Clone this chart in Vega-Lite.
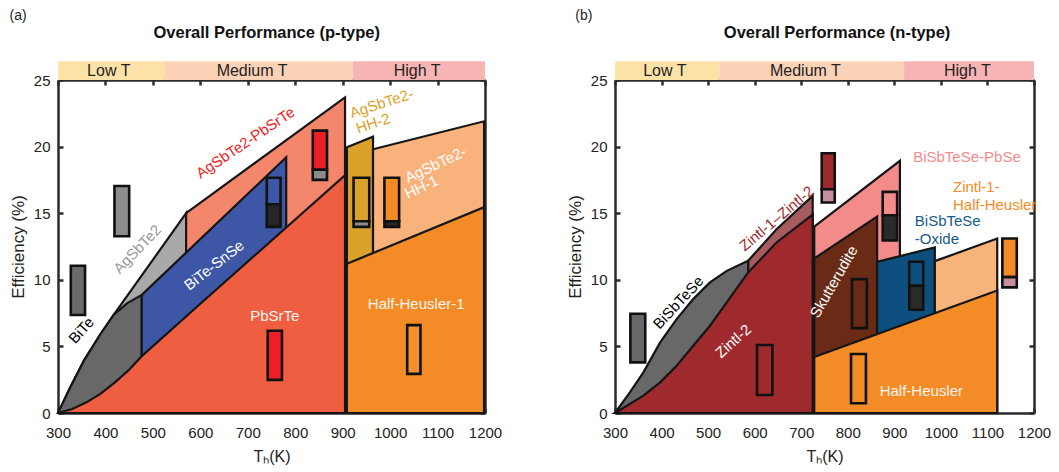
{
"$schema": "https://vega.github.io/schema/vega-lite/v6.json",
"background": "white",
"padding": {"left": 9, "top": 9, "right": 5, "bottom": 5},
"config": {
  "font": "Liberation Sans",
  "view": {"stroke": null},
  "axis": {"grid": false, "domainColor": "#2b2b2b", "domainWidth": 2.5, "tickColor": "#2b2b2b", "tickWidth": 2.5, "tickSize": -5, "labelFontSize": 15, "labelColor": "#222", "titleFontSize": 15, "titleColor": "#222", "titleFontWeight": "normal", "zindex": 1, "labelFlush": false}
},
"resolve": {"scale": {"fill": "independent", "color": "independent"}},
"datasets": {
  "bands": [
    {"band": "Low T", "t1": 300, "t2": 524, "tm": 407},
    {"band": "Medium T", "t1": 524, "t2": 921, "tm": 709},
    {"band": "High T", "t1": 921, "t2": 1200, "tm": 1057}
  ],
  "regA": [
    {"r": "AgSbTe2", "T": 300, "lo": 0, "hi": 0},
    {"r": "AgSbTe2", "T": 327, "lo": 0, "hi": 2.0},
    {"r": "AgSbTe2", "T": 355, "lo": 0, "hi": 3.95},
    {"r": "AgSbTe2", "T": 390, "lo": 0, "hi": 5.95},
    {"r": "AgSbTe2", "T": 418, "lo": 0, "hi": 7.4},
    {"r": "AgSbTe2", "T": 570, "lo": 0, "hi": 15.0},
    {"r": "AgSbTe2-PbSrTe", "T": 570, "lo": 0, "hi": 15.0},
    {"r": "AgSbTe2-PbSrTe", "T": 905, "lo": 0, "hi": 23.7},
    {"r": "BiTe-SnSe", "T": 476, "lo": 0, "hi": 8.85},
    {"r": "BiTe-SnSe", "T": 781, "lo": 0, "hi": 19.2},
    {"r": "BiTe", "T": 300, "lo": 0, "hi": 0},
    {"r": "BiTe", "T": 327, "lo": 0, "hi": 2.0},
    {"r": "BiTe", "T": 355, "lo": 0, "hi": 3.95},
    {"r": "BiTe", "T": 390, "lo": 0, "hi": 5.95},
    {"r": "BiTe", "T": 418, "lo": 0, "hi": 7.4},
    {"r": "BiTe", "T": 446, "lo": 0, "hi": 8.25},
    {"r": "BiTe", "T": 476, "lo": 0, "hi": 8.85},
    {"r": "PbSrTe", "T": 300, "lo": 0, "hi": 0},
    {"r": "PbSrTe", "T": 330, "lo": 0, "hi": 0.3},
    {"r": "PbSrTe", "T": 360, "lo": 0, "hi": 0.8},
    {"r": "PbSrTe", "T": 390, "lo": 0, "hi": 1.45},
    {"r": "PbSrTe", "T": 420, "lo": 0, "hi": 2.3},
    {"r": "PbSrTe", "T": 450, "lo": 0, "hi": 3.25},
    {"r": "PbSrTe", "T": 476, "lo": 0, "hi": 4.25},
    {"r": "PbSrTe", "T": 600, "lo": 0, "hi": 8.2},
    {"r": "PbSrTe", "T": 905, "lo": 0, "hi": 17.85},
    {"r": "AgSbTe2-HH-2", "T": 909, "lo": 0, "hi": 19.95},
    {"r": "AgSbTe2-HH-2", "T": 964, "lo": 0, "hi": 20.75},
    {"r": "AgSbTe2-HH-1", "T": 964, "lo": 0, "hi": 19.8},
    {"r": "AgSbTe2-HH-1", "T": 1198, "lo": 0, "hi": 21.9},
    {"r": "Half-Heusler-1", "T": 909, "lo": 0, "hi": 11.2},
    {"r": "Half-Heusler-1", "T": 1198, "lo": 0, "hi": 15.45}
  ],
  "barA": [
    {"seg": "BiTe", "t1": 327, "t2": 357, "e1": 7.36, "e2": 11.05},
    {"seg": "AgSbTe2", "t1": 419, "t2": 450, "e1": 13.27, "e2": 17.04},
    {"seg": "BiTe-SnSe", "t1": 740, "t2": 769, "e1": 15.67, "e2": 17.66},
    {"seg": "dark", "t1": 740, "t2": 769, "e1": 13.97, "e2": 15.67},
    {"seg": "AgSbTe2-PbSrTe", "t1": 837, "t2": 867, "e1": 18.26, "e2": 21.2},
    {"seg": "AgSbTe2", "t1": 837, "t2": 867, "e1": 17.5, "e2": 18.26},
    {"seg": "AgSbTe2-HH-2", "t1": 923, "t2": 956, "e1": 14.4, "e2": 17.66},
    {"seg": "AgSbTe2", "t1": 923, "t2": 956, "e1": 13.97, "e2": 14.4},
    {"seg": "AgSbTe2-HH-1", "t1": 988, "t2": 1019, "e1": 14.4, "e2": 17.66},
    {"seg": "dark", "t1": 988, "t2": 1019, "e1": 13.97, "e2": 14.4},
    {"seg": "PbSrTe", "t1": 742, "t2": 772, "e1": 2.49, "e2": 6.18},
    {"seg": "Half-Heusler-1", "t1": 1036, "t2": 1064, "e1": 2.94, "e2": 6.6}
  ],
  "labA": [
    {"id": "panel", "text": "(a)", "T": 216, "E": 29.8},
    {"id": "title", "text": "Overall Performance (p-type)", "T": 740, "E": 28.5},
    {"id": "bite", "text": "BiTe", "T": 349, "E": 6.2},
    {"id": "agsbte2", "text": "AgSbTe2", "T": 467, "E": 12.3},
    {"id": "bitesnse", "text": "BiTe-SnSe", "T": 629, "E": 11.1},
    {"id": "agpbsrte", "text": "AgSbTe2-PbSrTe", "T": 695, "E": 20.3},
    {"id": "pbsrte", "text": "PbSrTe", "T": 757, "E": 7.3},
    {"id": "hh1", "text": "Half-Heusler-1", "T": 1055, "E": 8.2},
    {"id": "hh2a", "text": "AgSbTe2-", "T": 982, "E": 23.25},
    {"id": "hh2b", "text": "HH-2", "T": 964, "E": 21.75},
    {"id": "aghh1a", "text": "AgSbTe2-", "T": 1096, "E": 18.66},
    {"id": "aghh1b", "text": "HH-1", "T": 1066, "E": 16.96}
  ],
  "regB": [
    {"r": "Zintl-1–Zintl-2", "T": 586, "lo": 0, "hi": 11.43},
    {"r": "Zintl-1–Zintl-2", "T": 647, "lo": 0, "hi": 13.8},
    {"r": "Zintl-1–Zintl-2", "T": 724.6, "lo": 0, "hi": 16.3},
    {"r": "BiSbTeSe", "T": 300, "lo": 0, "hi": 0},
    {"r": "BiSbTeSe", "T": 332, "lo": 0, "hi": 1.55},
    {"r": "BiSbTeSe", "T": 361, "lo": 0, "hi": 3.05},
    {"r": "BiSbTeSe", "T": 397, "lo": 0, "hi": 5.3},
    {"r": "BiSbTeSe", "T": 432.5, "lo": 0, "hi": 7.05},
    {"r": "BiSbTeSe", "T": 468, "lo": 0, "hi": 8.55},
    {"r": "BiSbTeSe", "T": 504, "lo": 0, "hi": 9.8},
    {"r": "BiSbTeSe", "T": 540, "lo": 0, "hi": 10.67},
    {"r": "BiSbTeSe", "T": 586, "lo": 0, "hi": 11.43},
    {"r": "Zintl-2", "T": 300, "lo": 0, "hi": 0},
    {"r": "Zintl-2", "T": 361, "lo": 0, "hi": 1.3},
    {"r": "Zintl-2", "T": 397, "lo": 0, "hi": 2.3},
    {"r": "Zintl-2", "T": 432.5, "lo": 0, "hi": 3.55},
    {"r": "Zintl-2", "T": 468, "lo": 0, "hi": 5.05},
    {"r": "Zintl-2", "T": 504, "lo": 0, "hi": 6.55},
    {"r": "Zintl-2", "T": 540, "lo": 0, "hi": 8.3},
    {"r": "Zintl-2", "T": 586, "lo": 0, "hi": 10.55},
    {"r": "Zintl-2", "T": 647, "lo": 0, "hi": 12.8},
    {"r": "Zintl-2", "T": 724.6, "lo": 0, "hi": 14.9},
    {"r": "BiSbTeSe-PbSe", "T": 728, "lo": 0, "hi": 14.0},
    {"r": "BiSbTeSe-PbSe", "T": 912, "lo": 0, "hi": 18.93},
    {"r": "Skutterudite", "T": 728, "lo": 0, "hi": 11.6},
    {"r": "Skutterudite", "T": 863, "lo": 0, "hi": 14.75},
    {"r": "BiSbTeSe-Oxide", "T": 863, "lo": 0, "hi": 11.35},
    {"r": "BiSbTeSe-Oxide", "T": 987, "lo": 0, "hi": 12.43},
    {"r": "Zintl-1-Half-Heusler", "T": 987, "lo": 0, "hi": 11.4},
    {"r": "Zintl-1-Half-Heusler", "T": 1121, "lo": 0, "hi": 13.1},
    {"r": "Half-Heusler", "T": 728, "lo": 0, "hi": 4.2},
    {"r": "Half-Heusler", "T": 1121, "lo": 0, "hi": 9.2}
  ],
  "barB": [
    {"seg": "BiSbTeSe", "t1": 333, "t2": 365, "e1": 3.8, "e2": 7.45},
    {"seg": "Zintl-2", "t1": 605, "t2": 638, "e1": 1.35, "e2": 5.1},
    {"seg": "Zintl-2", "t1": 744, "t2": 772, "e1": 16.8, "e2": 19.5},
    {"seg": "Zintl-1", "t1": 744, "t2": 772, "e1": 15.8, "e2": 16.8},
    {"seg": "Skutterudite", "t1": 809, "t2": 841, "e1": 6.37, "e2": 10.05},
    {"seg": "BiSbTeSe-PbSe", "t1": 875, "t2": 906, "e1": 14.85, "e2": 16.6},
    {"seg": "dark", "t1": 875, "t2": 906, "e1": 12.95, "e2": 14.85},
    {"seg": "BiSbTeSe-Oxide", "t1": 932, "t2": 962, "e1": 9.55, "e2": 11.35},
    {"seg": "dark", "t1": 932, "t2": 962, "e1": 7.75, "e2": 9.55},
    {"seg": "Half-Heusler", "t1": 807, "t2": 839, "e1": 0.73, "e2": 4.43},
    {"seg": "Half-Heusler", "t1": 1132, "t2": 1163, "e1": 10.2, "e2": 13.1},
    {"seg": "Zintl-1", "t1": 1132, "t2": 1163, "e1": 9.43, "e2": 10.2}
  ],
  "labB": [
    {"id": "panel", "text": "(b)", "T": 233, "E": 29.8},
    {"id": "title", "text": "Overall Performance (n-type)", "T": 777, "E": 28.5},
    {"id": "bisbtese", "text": "BiSbTeSe", "T": 436, "E": 8.3},
    {"id": "zintl2", "text": "Zintl-2", "T": 554, "E": 5.4},
    {"id": "z1z2", "text": "Zintl-1–Zintl-2", "T": 647, "E": 14.6},
    {"id": "skut", "text": "Skutterudite", "T": 770, "E": 9.85},
    {"id": "pbse", "text": "BiSbTeSe-PbSe", "T": 1056, "E": 19.2},
    {"id": "z1hha", "text": "Zintl-1-", "T": 1026, "E": 17.0},
    {"id": "z1hhb", "text": "Half-Heusler", "T": 1026, "E": 15.6},
    {"id": "oxa", "text": "BiSbTeSe", "T": 944, "E": 14.4},
    {"id": "oxb", "text": "-Oxide", "T": 944, "E": 13.05},
    {"id": "hh", "text": "Half-Heusler", "T": 958, "E": 1.67}
  ]
},
"spacing": 64,
"hconcat": [
{
  "width": 427, "height": 333,
  "resolve": {"axis": {"x": "independent", "y": "independent"}},
  "layer": [
    {"data": {"name": "bands"}, "mark": {"type": "rect"},
     "encoding": {"x": {"field": "t1", "type": "quantitative", "scale": {"domain": [300, 1200], "nice": false}, "axis": null}, "x2": {"field": "t2"},
       "y": {"datum": 25, "type": "quantitative", "scale": {"domain": [0, 25], "nice": false}, "axis": null}, "y2": {"datum": 26.4},
       "color": {"field": "band", "type": "nominal", "scale": {"domain": ["Low T", "Medium T", "High T"], "range": ["#FDE2A8", "#FBD2B6", "#F6B4B4"]}, "legend": null}}},
    {"data": {"name": "bands"}, "mark": {"type": "text", "fontSize": 16, "fill": "#222", "baseline": "middle"},
     "encoding": {"x": {"field": "tm", "type": "quantitative", "scale": {"domain": [300, 1200], "nice": false}, "axis": null},
       "y": {"datum": 25.7, "type": "quantitative", "scale": {"domain": [0, 25], "nice": false}, "axis": null}, "text": {"field": "band"}}},
    {"data": {"name": "regA"}, "transform": [{"filter": {"field": "r", "equal": "AgSbTe2"}}],
     "mark": {"type": "area", "fill": "#A9A9A9", "stroke": "#151515", "strokeWidth": 2.2},
     "encoding": {"x": {"field": "T", "type": "quantitative", "scale": {"domain": [300, 1200], "nice": false},
        "axis": {"orient": "bottom", "values": [300, 400, 500, 600, 700, 800, 900, 1000, 1100, 1200], "format": "d", "labelPadding": 17, "title": "Tₕ(K)", "titleFontSize": 16, "titlePadding": 8}},
       "y": {"field": "hi", "type": "quantitative", "scale": {"domain": [0, 25], "nice": false},
        "axis": {"orient": "left", "values": [0, 5, 10, 15, 20, 25], "labelPadding": 13, "title": "Efficiency (%)", "titleFontSize": 17, "titlePadding": 6}},
       "y2": {"field": "lo"}}},
    {"data": {"name": "regA"}, "transform": [{"filter": {"field": "r", "equal": "AgSbTe2-PbSrTe"}}],
     "mark": {"type": "area", "fill": "#F4876B", "stroke": "#151515", "strokeWidth": 2.2},
     "encoding": {"x": {"field": "T", "type": "quantitative", "scale": {"domain": [300, 1200], "nice": false}, "axis": null},
       "y": {"field": "hi", "type": "quantitative", "scale": {"domain": [0, 25], "nice": false}, "axis": null}, "y2": {"field": "lo"}}},
    {"data": {"name": "regA"}, "transform": [{"filter": {"field": "r", "equal": "BiTe-SnSe"}}],
     "mark": {"type": "area", "fill": "#3E56A6", "stroke": "#151515", "strokeWidth": 2.2},
     "encoding": {"x": {"field": "T", "type": "quantitative", "scale": {"domain": [300, 1200], "nice": false}, "axis": null},
       "y": {"field": "hi", "type": "quantitative", "scale": {"domain": [0, 25], "nice": false}, "axis": null}, "y2": {"field": "lo"}}},
    {"data": {"name": "regA"}, "transform": [{"filter": {"field": "r", "equal": "BiTe"}}],
     "mark": {"type": "area", "fill": "#686868", "stroke": "#151515", "strokeWidth": 2.2},
     "encoding": {"x": {"field": "T", "type": "quantitative", "scale": {"domain": [300, 1200], "nice": false}, "axis": null},
       "y": {"field": "hi", "type": "quantitative", "scale": {"domain": [0, 25], "nice": false}, "axis": null}, "y2": {"field": "lo"}}},
    {"data": {"name": "regA"}, "transform": [{"filter": {"field": "r", "equal": "PbSrTe"}}],
     "mark": {"type": "area", "fill": "#F05E42", "stroke": "#151515", "strokeWidth": 2.2},
     "encoding": {"x": {"field": "T", "type": "quantitative", "scale": {"domain": [300, 1200], "nice": false}, "axis": null},
       "y": {"field": "hi", "type": "quantitative", "scale": {"domain": [0, 25], "nice": false}, "axis": null}, "y2": {"field": "lo"}}},
    {"data": {"name": "regA"}, "transform": [{"filter": {"field": "r", "equal": "AgSbTe2-HH-2"}}],
     "mark": {"type": "area", "fill": "#DAA22B", "stroke": "#151515", "strokeWidth": 2.2},
     "encoding": {"x": {"field": "T", "type": "quantitative", "scale": {"domain": [300, 1200], "nice": false}, "axis": null},
       "y": {"field": "hi", "type": "quantitative", "scale": {"domain": [0, 25], "nice": false}, "axis": null}, "y2": {"field": "lo"}}},
    {"data": {"name": "regA"}, "transform": [{"filter": {"field": "r", "equal": "AgSbTe2-HH-1"}}],
     "mark": {"type": "area", "fill": "#F9B27B", "stroke": "#151515", "strokeWidth": 2.2},
     "encoding": {"x": {"field": "T", "type": "quantitative", "scale": {"domain": [300, 1200], "nice": false}, "axis": null},
       "y": {"field": "hi", "type": "quantitative", "scale": {"domain": [0, 25], "nice": false}, "axis": null}, "y2": {"field": "lo"}}},
    {"data": {"name": "regA"}, "transform": [{"filter": {"field": "r", "equal": "Half-Heusler-1"}}],
     "mark": {"type": "area", "fill": "#F38B26", "stroke": "#151515", "strokeWidth": 2.2},
     "encoding": {"x": {"field": "T", "type": "quantitative", "scale": {"domain": [300, 1200], "nice": false}, "axis": null},
       "y": {"field": "hi", "type": "quantitative", "scale": {"domain": [0, 25], "nice": false}, "axis": null}, "y2": {"field": "lo"}}},
    {"data": {"name": "barA"}, "mark": {"type": "rect", "stroke": "#111", "strokeWidth": 2.6},
     "encoding": {"x": {"field": "t1", "type": "quantitative", "scale": {"domain": [300, 1200], "nice": false},
        "axis": {"orient": "top", "values": [300, 400, 500, 600, 700, 800, 900, 1000, 1100, 1200], "labels": false, "title": null}},
       "x2": {"field": "t2"},
       "y": {"field": "e1", "type": "quantitative", "scale": {"domain": [0, 25], "nice": false},
        "axis": {"orient": "right", "values": [0, 5, 10, 15, 20, 25], "labels": false, "title": null}},
       "y2": {"field": "e2"},
       "fill": {"field": "seg", "type": "nominal", "legend": null, "scale": {"domain": ["BiTe", "AgSbTe2", "BiTe-SnSe", "dark", "AgSbTe2-PbSrTe", "PbSrTe", "AgSbTe2-HH-2", "AgSbTe2-HH-1", "Half-Heusler-1"], "range": ["#6A6A6A", "#8C8C8C", "#3E56A6", "#262626", "#EC1F26", "#EC1F26", "#DAA22B", "#F38B26", "#F4902E"]}}}},
    {"data": {"name": "labA"}, "transform": [{"filter": {"field": "id", "equal": "panel"}}],
     "mark": {"type": "text", "fontSize": 14, "fill": "#222", "align": "center", "baseline": "middle"},
     "encoding": {"x": {"field": "T", "type": "quantitative", "scale": {"domain": [300, 1200], "nice": false}, "axis": null}, "y": {"field": "E", "type": "quantitative", "scale": {"domain": [0, 25], "nice": false}, "axis": null}, "text": {"field": "text"}}},
    {"data": {"name": "labA"}, "transform": [{"filter": {"field": "id", "equal": "title"}}],
     "mark": {"type": "text", "fontSize": 16.5, "fontWeight": "bold", "fill": "#111", "align": "center", "baseline": "middle"},
     "encoding": {"x": {"field": "T", "type": "quantitative", "scale": {"domain": [300, 1200], "nice": false}, "axis": null}, "y": {"field": "E", "type": "quantitative", "scale": {"domain": [0, 25], "nice": false}, "axis": null}, "text": {"field": "text"}}},
    {"data": {"name": "labA"}, "transform": [{"filter": {"field": "id", "equal": "bite"}}],
     "mark": {"type": "text", "fontSize": 15, "fill": "#000", "angle": 312, "align": "center", "baseline": "middle"},
     "encoding": {"x": {"field": "T", "type": "quantitative", "scale": {"domain": [300, 1200], "nice": false}, "axis": null}, "y": {"field": "E", "type": "quantitative", "scale": {"domain": [0, 25], "nice": false}, "axis": null}, "text": {"field": "text"}}},
    {"data": {"name": "labA"}, "transform": [{"filter": {"field": "id", "equal": "agsbte2"}}],
     "mark": {"type": "text", "fontSize": 15, "fill": "#9A9A9A", "angle": 314, "align": "center", "baseline": "middle"},
     "encoding": {"x": {"field": "T", "type": "quantitative", "scale": {"domain": [300, 1200], "nice": false}, "axis": null}, "y": {"field": "E", "type": "quantitative", "scale": {"domain": [0, 25], "nice": false}, "axis": null}, "text": {"field": "text"}}},
    {"data": {"name": "labA"}, "transform": [{"filter": {"field": "id", "equal": "bitesnse"}}],
     "mark": {"type": "text", "fontSize": 15, "fill": "#FFFFFF", "angle": 322, "align": "center", "baseline": "middle"},
     "encoding": {"x": {"field": "T", "type": "quantitative", "scale": {"domain": [300, 1200], "nice": false}, "axis": null}, "y": {"field": "E", "type": "quantitative", "scale": {"domain": [0, 25], "nice": false}, "axis": null}, "text": {"field": "text"}}},
    {"data": {"name": "labA"}, "transform": [{"filter": {"field": "id", "equal": "agpbsrte"}}],
     "mark": {"type": "text", "fontSize": 15, "fill": "#EC1F26", "angle": 326, "align": "center", "baseline": "middle"},
     "encoding": {"x": {"field": "T", "type": "quantitative", "scale": {"domain": [300, 1200], "nice": false}, "axis": null}, "y": {"field": "E", "type": "quantitative", "scale": {"domain": [0, 25], "nice": false}, "axis": null}, "text": {"field": "text"}}},
    {"data": {"name": "labA"}, "transform": [{"filter": {"field": "id", "oneOf": ["pbsrte", "hh1"]}}],
     "mark": {"type": "text", "fontSize": 15, "fill": "#FFF4EE", "align": "center", "baseline": "middle"},
     "encoding": {"x": {"field": "T", "type": "quantitative", "scale": {"domain": [300, 1200], "nice": false}, "axis": null}, "y": {"field": "E", "type": "quantitative", "scale": {"domain": [0, 25], "nice": false}, "axis": null}, "text": {"field": "text"}}},
    {"data": {"name": "labA"}, "transform": [{"filter": {"field": "id", "oneOf": ["hh2a", "hh2b"]}}],
     "mark": {"type": "text", "fontSize": 15, "fill": "#DAA22B", "angle": 342, "align": "center", "baseline": "middle"},
     "encoding": {"x": {"field": "T", "type": "quantitative", "scale": {"domain": [300, 1200], "nice": false}, "axis": null}, "y": {"field": "E", "type": "quantitative", "scale": {"domain": [0, 25], "nice": false}, "axis": null}, "text": {"field": "text"}}},
    {"data": {"name": "labA"}, "transform": [{"filter": {"field": "id", "oneOf": ["aghh1a", "aghh1b"]}}],
     "mark": {"type": "text", "fontSize": 15, "fill": "#FFFFFF", "angle": 335, "align": "center", "baseline": "middle"},
     "encoding": {"x": {"field": "T", "type": "quantitative", "scale": {"domain": [300, 1200], "nice": false}, "axis": null}, "y": {"field": "E", "type": "quantitative", "scale": {"domain": [0, 25], "nice": false}, "axis": null}, "text": {"field": "text"}}}
  ]
},
{
  "width": 419, "height": 333,
  "resolve": {"axis": {"x": "independent", "y": "independent"}},
  "layer": [
    {"data": {"name": "bands"}, "mark": {"type": "rect"},
     "encoding": {"x": {"field": "t1", "type": "quantitative", "scale": {"domain": [300, 1200], "nice": false}, "axis": null}, "x2": {"field": "t2"},
       "y": {"datum": 25, "type": "quantitative", "scale": {"domain": [0, 25], "nice": false}, "axis": null}, "y2": {"datum": 26.4},
       "color": {"field": "band", "type": "nominal", "scale": {"domain": ["Low T", "Medium T", "High T"], "range": ["#FDE2A8", "#FBD2B6", "#F6B4B4"]}, "legend": null}}},
    {"data": {"name": "bands"}, "mark": {"type": "text", "fontSize": 16, "fill": "#222", "baseline": "middle"},
     "encoding": {"x": {"field": "tm", "type": "quantitative", "scale": {"domain": [300, 1200], "nice": false}, "axis": null},
       "y": {"datum": 25.7, "type": "quantitative", "scale": {"domain": [0, 25], "nice": false}, "axis": null}, "text": {"field": "band"}}},
    {"data": {"name": "regB"}, "transform": [{"filter": {"field": "r", "equal": "Zintl-1–Zintl-2"}}],
     "mark": {"type": "area", "fill": "#A65B5E", "stroke": "#151515", "strokeWidth": 2.2},
     "encoding": {"x": {"field": "T", "type": "quantitative", "scale": {"domain": [300, 1200], "nice": false},
        "axis": {"orient": "bottom", "values": [300, 400, 500, 600, 700, 800, 900, 1000, 1100, 1200], "format": "d", "labelPadding": 17, "title": "Tₕ(K)", "titleFontSize": 16, "titlePadding": 8}},
       "y": {"field": "hi", "type": "quantitative", "scale": {"domain": [0, 25], "nice": false},
        "axis": {"orient": "left", "values": [0, 5, 10, 15, 20, 25], "labelPadding": 13, "title": "Efficiency (%)", "titleFontSize": 17, "titlePadding": 6}},
       "y2": {"field": "lo"}}},
    {"data": {"name": "regB"}, "transform": [{"filter": {"field": "r", "equal": "BiSbTeSe"}}],
     "mark": {"type": "area", "fill": "#686868", "stroke": "#151515", "strokeWidth": 2.2},
     "encoding": {"x": {"field": "T", "type": "quantitative", "scale": {"domain": [300, 1200], "nice": false}, "axis": null},
       "y": {"field": "hi", "type": "quantitative", "scale": {"domain": [0, 25], "nice": false}, "axis": null}, "y2": {"field": "lo"}}},
    {"data": {"name": "regB"}, "transform": [{"filter": {"field": "r", "equal": "Zintl-2"}}],
     "mark": {"type": "area", "fill": "#9F2A2D", "stroke": "#151515", "strokeWidth": 2.2},
     "encoding": {"x": {"field": "T", "type": "quantitative", "scale": {"domain": [300, 1200], "nice": false}, "axis": null},
       "y": {"field": "hi", "type": "quantitative", "scale": {"domain": [0, 25], "nice": false}, "axis": null}, "y2": {"field": "lo"}}},
    {"data": {"name": "regB"}, "transform": [{"filter": {"field": "r", "equal": "BiSbTeSe-PbSe"}}],
     "mark": {"type": "area", "fill": "#F38B8B", "stroke": "#151515", "strokeWidth": 2.2},
     "encoding": {"x": {"field": "T", "type": "quantitative", "scale": {"domain": [300, 1200], "nice": false}, "axis": null},
       "y": {"field": "hi", "type": "quantitative", "scale": {"domain": [0, 25], "nice": false}, "axis": null}, "y2": {"field": "lo"}}},
    {"data": {"name": "regB"}, "transform": [{"filter": {"field": "r", "equal": "Skutterudite"}}],
     "mark": {"type": "area", "fill": "#6A2B16", "stroke": "#151515", "strokeWidth": 2.2},
     "encoding": {"x": {"field": "T", "type": "quantitative", "scale": {"domain": [300, 1200], "nice": false}, "axis": null},
       "y": {"field": "hi", "type": "quantitative", "scale": {"domain": [0, 25], "nice": false}, "axis": null}, "y2": {"field": "lo"}}},
    {"data": {"name": "regB"}, "transform": [{"filter": {"field": "r", "equal": "BiSbTeSe-Oxide"}}],
     "mark": {"type": "area", "fill": "#0D507F", "stroke": "#151515", "strokeWidth": 2.2},
     "encoding": {"x": {"field": "T", "type": "quantitative", "scale": {"domain": [300, 1200], "nice": false}, "axis": null},
       "y": {"field": "hi", "type": "quantitative", "scale": {"domain": [0, 25], "nice": false}, "axis": null}, "y2": {"field": "lo"}}},
    {"data": {"name": "regB"}, "transform": [{"filter": {"field": "r", "equal": "Zintl-1-Half-Heusler"}}],
     "mark": {"type": "area", "fill": "#F9B47C", "stroke": "#151515", "strokeWidth": 2.2},
     "encoding": {"x": {"field": "T", "type": "quantitative", "scale": {"domain": [300, 1200], "nice": false}, "axis": null},
       "y": {"field": "hi", "type": "quantitative", "scale": {"domain": [0, 25], "nice": false}, "axis": null}, "y2": {"field": "lo"}}},
    {"data": {"name": "regB"}, "transform": [{"filter": {"field": "r", "equal": "Half-Heusler"}}],
     "mark": {"type": "area", "fill": "#F38B26", "stroke": "#151515", "strokeWidth": 2.2},
     "encoding": {"x": {"field": "T", "type": "quantitative", "scale": {"domain": [300, 1200], "nice": false}, "axis": null},
       "y": {"field": "hi", "type": "quantitative", "scale": {"domain": [0, 25], "nice": false}, "axis": null}, "y2": {"field": "lo"}}},
    {"data": {"name": "barB"}, "mark": {"type": "rect", "stroke": "#111", "strokeWidth": 2.6},
     "encoding": {"x": {"field": "t1", "type": "quantitative", "scale": {"domain": [300, 1200], "nice": false},
        "axis": {"orient": "top", "values": [300, 400, 500, 600, 700, 800, 900, 1000, 1100, 1200], "labels": false, "title": null}},
       "x2": {"field": "t2"},
       "y": {"field": "e1", "type": "quantitative", "scale": {"domain": [0, 25], "nice": false},
        "axis": {"orient": "right", "values": [0, 5, 10, 15, 20, 25], "labels": false, "title": null}},
       "y2": {"field": "e2"},
       "fill": {"field": "seg", "type": "nominal", "legend": null, "scale": {"domain": ["BiSbTeSe", "Zintl-2", "Zintl-1", "Skutterudite", "BiSbTeSe-PbSe", "dark", "BiSbTeSe-Oxide", "Half-Heusler"], "range": ["#686868", "#9F2A2D", "#C48E9E", "#6A2B16", "#F38B8B", "#2A2A2A", "#0D507F", "#F38B26"]}}}},
    {"data": {"name": "labB"}, "transform": [{"filter": {"field": "id", "equal": "panel"}}],
     "mark": {"type": "text", "fontSize": 14, "fill": "#222", "align": "center", "baseline": "middle"},
     "encoding": {"x": {"field": "T", "type": "quantitative", "scale": {"domain": [300, 1200], "nice": false}, "axis": null}, "y": {"field": "E", "type": "quantitative", "scale": {"domain": [0, 25], "nice": false}, "axis": null}, "text": {"field": "text"}}},
    {"data": {"name": "labB"}, "transform": [{"filter": {"field": "id", "equal": "title"}}],
     "mark": {"type": "text", "fontSize": 16.5, "fontWeight": "bold", "fill": "#111", "align": "center", "baseline": "middle"},
     "encoding": {"x": {"field": "T", "type": "quantitative", "scale": {"domain": [300, 1200], "nice": false}, "axis": null}, "y": {"field": "E", "type": "quantitative", "scale": {"domain": [0, 25], "nice": false}, "axis": null}, "text": {"field": "text"}}},
    {"data": {"name": "labB"}, "transform": [{"filter": {"field": "id", "equal": "bisbtese"}}],
     "mark": {"type": "text", "fontSize": 15, "fill": "#000", "angle": 313, "align": "center", "baseline": "middle"},
     "encoding": {"x": {"field": "T", "type": "quantitative", "scale": {"domain": [300, 1200], "nice": false}, "axis": null}, "y": {"field": "E", "type": "quantitative", "scale": {"domain": [0, 25], "nice": false}, "axis": null}, "text": {"field": "text"}}},
    {"data": {"name": "labB"}, "transform": [{"filter": {"field": "id", "equal": "zintl2"}}],
     "mark": {"type": "text", "fontSize": 15, "fill": "#FFFFFF", "angle": 318, "align": "center", "baseline": "middle"},
     "encoding": {"x": {"field": "T", "type": "quantitative", "scale": {"domain": [300, 1200], "nice": false}, "axis": null}, "y": {"field": "E", "type": "quantitative", "scale": {"domain": [0, 25], "nice": false}, "axis": null}, "text": {"field": "text"}}},
    {"data": {"name": "labB"}, "transform": [{"filter": {"field": "id", "equal": "z1z2"}}],
     "mark": {"type": "text", "fontSize": 15, "fill": "#A0282D", "angle": 320, "align": "center", "baseline": "middle"},
     "encoding": {"x": {"field": "T", "type": "quantitative", "scale": {"domain": [300, 1200], "nice": false}, "axis": null}, "y": {"field": "E", "type": "quantitative", "scale": {"domain": [0, 25], "nice": false}, "axis": null}, "text": {"field": "text"}}},
    {"data": {"name": "labB"}, "transform": [{"filter": {"field": "id", "equal": "skut"}}],
     "mark": {"type": "text", "fontSize": 15, "fill": "#FFFFFF", "angle": 300, "align": "center", "baseline": "middle"},
     "encoding": {"x": {"field": "T", "type": "quantitative", "scale": {"domain": [300, 1200], "nice": false}, "axis": null}, "y": {"field": "E", "type": "quantitative", "scale": {"domain": [0, 25], "nice": false}, "axis": null}, "text": {"field": "text"}}},
    {"data": {"name": "labB"}, "transform": [{"filter": {"field": "id", "equal": "pbse"}}],
     "mark": {"type": "text", "fontSize": 15, "fill": "#F38B8B", "align": "center", "baseline": "middle"},
     "encoding": {"x": {"field": "T", "type": "quantitative", "scale": {"domain": [300, 1200], "nice": false}, "axis": null}, "y": {"field": "E", "type": "quantitative", "scale": {"domain": [0, 25], "nice": false}, "axis": null}, "text": {"field": "text"}}},
    {"data": {"name": "labB"}, "transform": [{"filter": {"field": "id", "oneOf": ["z1hha", "z1hhb"]}}],
     "mark": {"type": "text", "fontSize": 15, "fill": "#F38B26", "align": "left", "baseline": "middle"},
     "encoding": {"x": {"field": "T", "type": "quantitative", "scale": {"domain": [300, 1200], "nice": false}, "axis": null}, "y": {"field": "E", "type": "quantitative", "scale": {"domain": [0, 25], "nice": false}, "axis": null}, "text": {"field": "text"}}},
    {"data": {"name": "labB"}, "transform": [{"filter": {"field": "id", "oneOf": ["oxa", "oxb"]}}],
     "mark": {"type": "text", "fontSize": 15, "fill": "#185A8C", "align": "left", "baseline": "middle"},
     "encoding": {"x": {"field": "T", "type": "quantitative", "scale": {"domain": [300, 1200], "nice": false}, "axis": null}, "y": {"field": "E", "type": "quantitative", "scale": {"domain": [0, 25], "nice": false}, "axis": null}, "text": {"field": "text"}}},
    {"data": {"name": "labB"}, "transform": [{"filter": {"field": "id", "equal": "hh"}}],
     "mark": {"type": "text", "fontSize": 15, "fill": "#FFF4EE", "align": "center", "baseline": "middle"},
     "encoding": {"x": {"field": "T", "type": "quantitative", "scale": {"domain": [300, 1200], "nice": false}, "axis": null}, "y": {"field": "E", "type": "quantitative", "scale": {"domain": [0, 25], "nice": false}, "axis": null}, "text": {"field": "text"}}}
  ]
}
]
}
